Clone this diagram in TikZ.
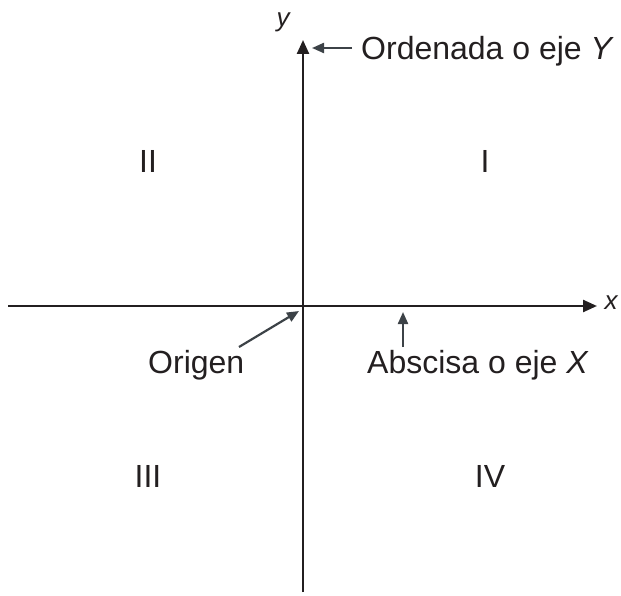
\documentclass[tikz,border=0pt]{standalone}
\usepackage{fontspec}
\setmainfont{Liberation Sans}
\usepackage{tikz}
\usetikzlibrary{arrows.meta,positioning}
\definecolor{ink}{HTML}{231F20}
\definecolor{pointer}{HTML}{3C4247}
\tikzset{
  >={Triangle[length=14pt,width=12pt]},
  axis/.style={->,draw=ink,line width=2.4pt},
  ptr/.style={-{Triangle[length=12pt,width=10pt]},draw=pointer,line width=2.2pt},
  lab/.style={font=\fontsize{32}{35}\selectfont,text=ink,inner sep=0pt},
  axlab/.style={font=\fontsize{26}{30}\selectfont\itshape,text=ink,inner sep=1pt},
}
\begin{document}
\begin{tikzpicture}[x=1pt,y=-1pt]
\useasboundingbox (0,0) rectangle (621,596);
% axes
\coordinate (xl) at (8,306);
\coordinate (xr) at (597,306);
\coordinate (yb) at (303,592);
\coordinate (yt) at (303,40);
\draw[axis] (xl) -- (xr);
\draw[axis] (yb) -- (yt);
\node[axlab] (ylab) at (283,22) {y};
\node[axlab] (xlab) at (611,303) {x};
% quadrants
\node[lab,anchor=base] (q1) at (485,173) {I};
\node[lab,anchor=base] (q2) at (148,173) {II};
\node[lab,anchor=base] (q3) at (148,487) {III};
\node[lab,anchor=base] (q4) at (490,487) {IV};
% pointers
\node[lab,anchor=base west] (ord) at (361,60) {Ordenada o eje \textit{Y}};
\coordinate (ordtail) at (352,48);
\coordinate (ordtip) at (312,48);
\draw[ptr] (ordtail) -- (ordtip);
\node[lab,anchor=base west] (orig) at (148,373) {Origen};
\coordinate (otail) at (239,347);
\coordinate (otip) at (299,311);
\draw[ptr] (otail) -- (otip);
\node[lab,anchor=base west] (absc) at (367,373) {Abscisa o eje \textit{X}};
\coordinate (atail) at (403,347);
\coordinate (atip) at (403,312);
\draw[ptr] (atail) -- (atip);
\end{tikzpicture}
\end{document}
